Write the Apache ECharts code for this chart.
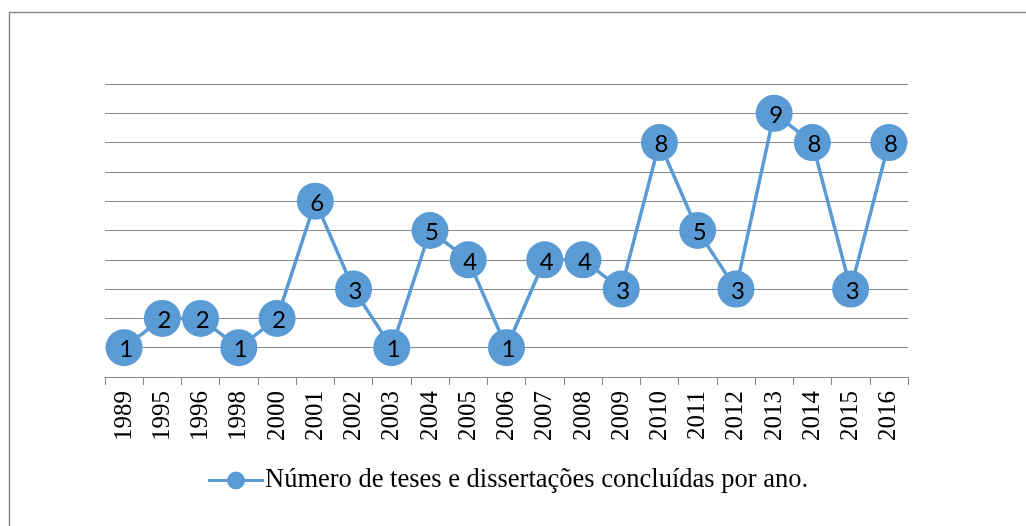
<!DOCTYPE html>
<html><head><meta charset="utf-8">
<script src="https://cdn.jsdelivr.net/npm/echarts@6/dist/echarts.min.js"></script>
<style>html,body{margin:0;padding:0;background:#fff}#c{width:1026px;height:526px}</style>
</head><body><div id="c"></div>
<script>
const years = ['1989','1995','1996','1998','2000','2001','2002','2003','2004','2005','2006','2007','2008','2009','2010','2011','2012','2013','2014','2015','2016'];
const values = [1,2,2,1,2,6,3,1,5,4,1,4,4,3,8,5,3,9,8,3,8];
const seriesName = 'Número de teses e dissertações concluídas por ano.';
const chart = echarts.init(document.getElementById('c'));
chart.setOption({
  animation:false,
  graphic:[{type:'rect',shape:{x:9.5,y:12.5,width:1100,height:600},style:{fill:'none',stroke:'#8c8c8c',lineWidth:1.5}}],
  grid:{left:105,right:118,top:84,bottom:149},
  xAxis:{type:'category',data:years,boundaryGap:true,
    axisLine:{lineStyle:{color:'#868686',width:1}},
    axisTick:{show:true,length:8,lineStyle:{color:'#868686'}},
    axisLabel:{rotate:90,fontFamily:'Liberation Serif',fontSize:25,color:'#000',margin:14,interval:0}},
  yAxis:{type:'value',min:0,max:10,interval:1,axisLabel:{show:false},axisLine:{show:false},axisTick:{show:false},
    splitLine:{lineStyle:{color:'#8a8a8a',width:1.2}}},
  legend:{top:462,left:203,itemWidth:56,itemHeight:18,itemGap:0,
    textStyle:{fontFamily:'Liberation Serif',fontSize:26.5,color:'#000',padding:[0,0,0,-4]},
    data:[{name:seriesName,icon:'path://M0,7.5L56,7.5L56,10.5L0,10.5Z M19,9a9,9 0 1,1 18,0a9,9 0 1,1 -18,0Z'}]},
  series:[{name:seriesName,type:'line',data:values,symbol:'circle',symbolSize:37,
    lineStyle:{color:'#5B9BD5',width:3.5},itemStyle:{color:'#5B9BD5'},
    label:{show:true,position:'inside',fontFamily:'Lato',fontSize:24,color:'#000',offset:[2,2]}}]
});
</script></body></html>
